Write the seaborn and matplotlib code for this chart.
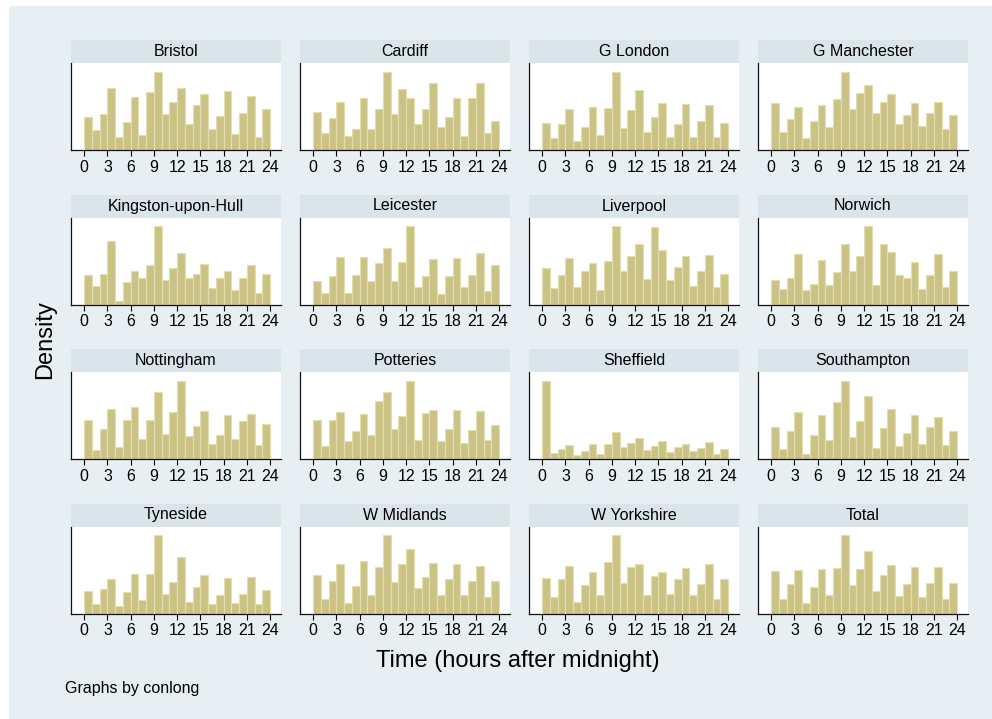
import numpy as np
import pandas as pd
import matplotlib
matplotlib.use("Agg")
import matplotlib.pyplot as plt
import seaborn as sns
from matplotlib.patches import Rectangle

# Bar heights (relative units, one bar per hour 0..23)
hours = list(range(24))
cities = ["Bristol", "Cardiff", "G London", "G Manchester",
          "Kingston-upon-Hull", "Leicester", "Liverpool", "Norwich",
          "Nottingham", "Potteries", "Sheffield", "Southampton",
          "Tyneside", "W Midlands", "W Yorkshire", "Total"]

bristol = [100, 61, 108, 188, 40, 84, 160, 45, 174, 235, 108, 146, 188, 78, 137, 170, 63, 102, 178, 48, 110, 164, 38, 123]
cardiff = [115, 51, 96, 145, 42, 63, 158, 63, 123, 235, 108, 183, 156, 78, 123, 201, 69, 100, 158, 42, 156, 201, 51, 88]
g_london = [82, 36, 77, 121, 28, 70, 129, 45, 124, 233, 67, 118, 180, 55, 98, 141, 40, 79, 136, 38, 86, 133, 38, 81]
g_manchester = [139, 55, 94, 127, 36, 88, 135, 70, 153, 233, 122, 169, 193, 110, 142, 167, 79, 106, 141, 73, 110, 144, 64, 104]
hull = [87, 54, 92, 191, 11, 67, 99, 79, 117, 234, 73, 110, 155, 79, 92, 122, 48, 79, 99, 42, 79, 117, 35, 92]
leicester = [69, 34, 85, 141, 35, 89, 141, 69, 124, 170, 69, 126, 234, 51, 85, 137, 30, 85, 139, 52, 88, 153, 41, 119]
liverpool = [109, 49, 89, 140, 51, 100, 125, 42, 130, 233, 100, 144, 181, 76, 232, 164, 74, 111, 144, 56, 100, 148, 53, 91]
norwich = [74, 47, 78, 151, 43, 62, 133, 58, 96, 181, 101, 144, 233, 59, 181, 158, 87, 80, 127, 47, 89, 151, 53, 101]
nottingham = [118, 28, 91, 151, 37, 117, 157, 61, 117, 202, 76, 142, 236, 71, 100, 144, 46, 72, 133, 61, 115, 136, 41, 106]
potteries = [118, 39, 117, 142, 55, 86, 136, 72, 175, 202, 90, 129, 236, 58, 140, 148, 55, 90, 147, 48, 87, 144, 58, 103]
sheffield = [236, 18, 30, 43, 13, 25, 44, 16, 44, 81, 37, 48, 64, 28, 39, 54, 21, 35, 44, 23, 33, 50, 15, 30]
southampton = [97, 30, 85, 142, 15, 72, 132, 58, 171, 236, 66, 114, 191, 34, 95, 151, 39, 79, 133, 44, 97, 126, 41, 85]
tyneside = [69, 28, 75, 105, 23, 65, 119, 41, 119, 236, 59, 95, 170, 36, 80, 115, 28, 55, 107, 31, 59, 111, 29, 71]
w_midlands = [115, 45, 98, 150, 31, 83, 160, 55, 141, 236, 96, 149, 195, 77, 111, 152, 55, 105, 149, 55, 98, 143, 51, 98]
w_yorkshire = [107, 50, 103, 142, 34, 87, 124, 55, 155, 235, 91, 139, 149, 55, 112, 126, 59, 104, 136, 56, 88, 148, 44, 104]
total = [128, 43, 88, 132, 31, 80, 135, 55, 137, 235, 87, 134, 187, 67, 115, 146, 53, 90, 139, 50, 91, 140, 44, 91]

heights = [bristol, cardiff, g_london, g_manchester, hull, leicester, liverpool,
           norwich, nottingham, potteries, sheffield, southampton, tyneside,
           w_midlands, w_yorkshire, total]

rows = []
for city, vals in zip(cities, heights):
    for h, v in zip(hours, vals):
        rows.append({"conlong": city, "hour": h + 0.5, "density": v})
df = pd.DataFrame(rows)

sns.set_style("white")
plt.rcParams['font.family'] = ['Liberation Sans', 'DejaVu Sans']
plt.rcParams['text.color'] = 'black'
plt.rcParams['xtick.color'] = 'black'

bg = "#E8EFF2"
strip = "#D9E5EB"
bar_fill = "#CBC386"
bar_edge = "#E4DEAE"

g = sns.FacetGrid(df, col="conlong", col_wrap=4, col_order=cities,
                  sharey=False, sharex=True, height=2, aspect=1)
g.map_dataframe(sns.histplot, x="hour", weights="density",
                 bins=24, binrange=(0, 24), stat="count",
                 color=bar_fill, edgecolor=bar_edge, linewidth=0.8, alpha=1)

fig = g.figure
W, H = 992, 719
fig.set_size_inches(W / 100, H / 100)
fig.patch.set_facecolor("white")
fig.patches.append(Rectangle((9 / W, 0), (W - 9) / W, (H - 6) / H,
                             transform=fig.transFigure, facecolor=bg,
                             edgecolor="none", zorder=-10))

lefts = [71, 300, 529, 758]
aw, ah = 210, 87
for i, ax in enumerate(g.axes.flat):
    r, c = divmod(i, 4)
    top = 63 + r * 154.5
    ax.set_position([lefts[c] / W, 1 - (top + ah) / H, aw / W, ah / H])
    ax.set_facecolor("white")
    ax.set_xlim(-1.7, 25.4)
    ax.set_ylim(0, max(heights[i]) * 1.115)
    ax.set_yticks([])
    ax.set_xticks(range(0, 25, 3))
    ax.tick_params(axis="x", bottom=True, length=4, width=0.8,
                   labelsize=11.5, pad=3, labelbottom=True,
                   colors="black")
    ax.set_xlabel("")
    ax.set_ylabel("")
    ax.set_title("")
    for s in ["top", "right"]:
        ax.spines[s].set_visible(False)
    for s in ["left", "bottom"]:
        ax.spines[s].set_color("#111111")
        ax.spines[s].set_linewidth(0.9)
    # strip header
    ax.add_patch(Rectangle((0, 1), 1, 23 / ah, transform=ax.transAxes,
                           facecolor=strip, edgecolor="none", clip_on=False))
    ax.text(0.5, 1 + 11.5 / ah, cities[i], transform=ax.transAxes,
            ha="center", va="center", fontsize=11.5, color="black")

fig.text(45 / W, 1 - 340 / H, "Density", rotation=90, ha="center",
         va="center", fontsize=17, color="black")
fig.text(518 / W, 1 - 661 / H, "Time (hours after midnight)", ha="center",
         va="center", fontsize=17, color="black")
fig.text(65 / W, 1 - 688 / H, "Graphs by conlong", ha="left",
         va="center", fontsize=11.5, color="black")

fig.savefig("out.png", dpi=100, facecolor=fig.get_facecolor())
